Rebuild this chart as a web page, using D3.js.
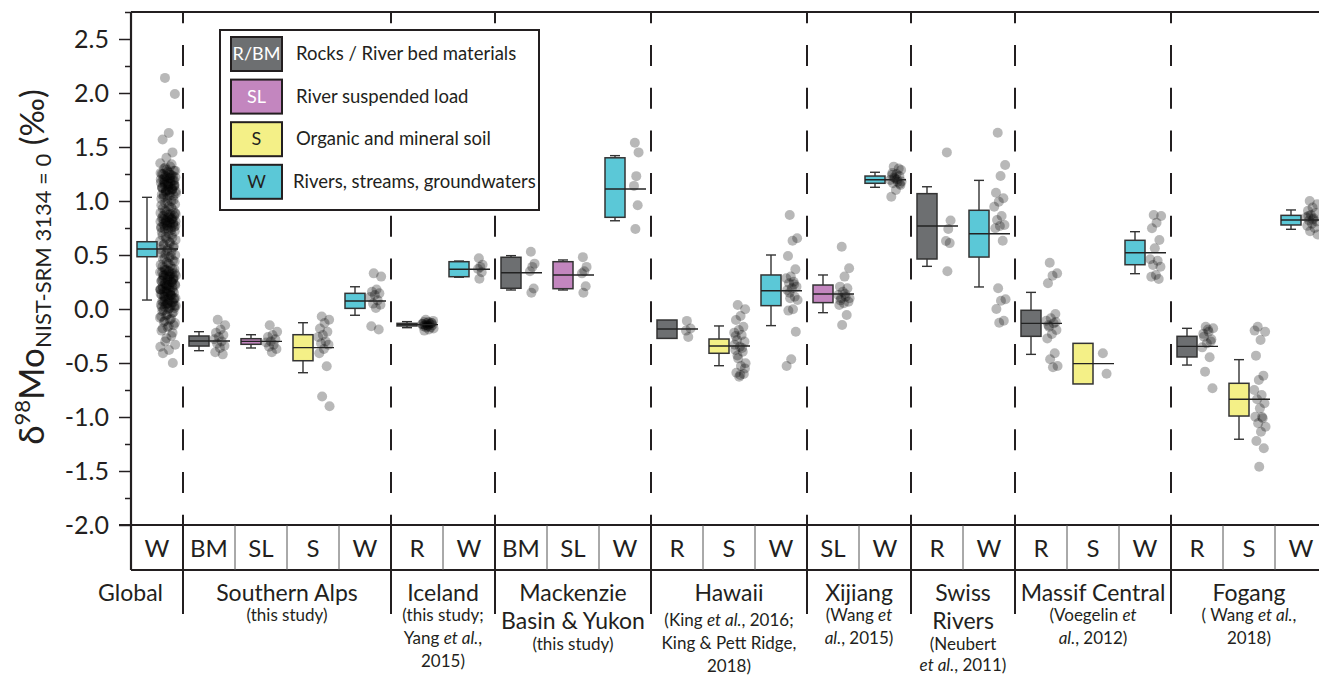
<!DOCTYPE html>
<html>
<head>
<meta charset="utf-8">
<script src="https://cdn.jsdelivr.net/npm/d3@7"></script>
<style>
  body { margin: 0; background: #fff; }
  svg { display: block; font-family: Lato, "Open Sans", sans-serif; }
</style>
</head>
<body>
<div id="chart"></div>
<script>
// ---- data ----
const groupTitles = [["Global"], ["Southern Alps"], ["Iceland"], ["Mackenzie", "Basin & Yukon"], ["Hawaii"],
                     ["Xijiang"], ["Swiss", "Rivers"], ["Massif Central"], ["Fogang"]];
const groupRefs = [
  [],
  ["(this study)"],
  ["(this study;", "Yang <i>et al.</i>,", "2015)"],
  ["(this study)"],
  ["(King <i>et al.</i>, 2016;", "King & Pett Ridge,", "2018)"],
  ["(Wang <i>et</i>", "<i>al.</i>, 2015)"],
  ["(Neubert", "<i>et al.</i>, 2011)"],
  ["(Voegelin <i>et</i>", "<i>al.</i>, 2012)"],
  ["( Wang <i>et al.</i>,", "2018)"]
];
const catGroup = [0, 1, 1, 1, 1, 2, 2, 3, 3, 3, 4, 4, 4, 5, 5, 6, 6, 7, 7, 7, 8, 8, 8];
const catLabel = ["W", "BM", "SL", "S", "W", "R", "W", "BM", "SL", "W", "R", "S", "W", "SL", "W", "R", "W", "R", "S", "W", "R", "S", "W"];

// box-plot statistics per category (‰)
const whiskerLo = [0.083, -0.386, -0.361, -0.59, -0.058, -0.173, 0.294, 0.176, 0.176, 0.817, -0.265, -0.525, -0.154, -0.034, 1.127, 0.395, 0.204, -0.42, -0.642, 0.327, -0.519, -1.206, 0.738];
const q1 = [0.484, -0.343, -0.327, -0.479, 0.006, -0.157, 0.299, 0.192, 0.188, 0.849, -0.272, -0.41, 0.031, 0.059, 1.164, 0.463, 0.481, -0.253, -0.694, 0.41, -0.444, -0.991, 0.778];
const median = [0.556, -0.296, -0.30, -0.358, 0.074, -0.145, 0.368, 0.336, 0.315, 1.111, -0.185, -0.343, 0.169, 0.139, 1.197, 0.769, 0.697, -0.133, -0.506, 0.521, -0.346, -0.836, 0.824];
const q3 = [0.623, -0.25, -0.275, -0.238, 0.145, -0.133, 0.438, 0.479, 0.438, 1.40, -0.102, -0.278, 0.315, 0.222, 1.231, 1.068, 0.914, -0.012, -0.318, 0.636, -0.253, -0.688, 0.867];
const whiskerHi = [1.034, -0.21, -0.238, -0.127, 0.206, -0.117, 0.444, 0.494, 0.454, 1.42, -0.11, -0.157, 0.50, 0.315, 1.266, 1.132, 1.191, 0.154, -0.373, 0.716, -0.179, -0.469, 0.917];

// individual samples
const ptsGlobalW = [2.14, 1.99, 1.63, 1.57, 1.45, 1.40, 1.35, 1.32, 1.30, 1.28, 1.27, 1.25, 1.24, 1.23, 1.22, 1.21, 1.20, 1.19, 1.18, 1.17,
  1.16, 1.15, 1.14, 1.13, 1.12, 1.11, 1.10, 1.09, 1.08, 1.06, 1.05, 1.03, 1.02, 1.00, 0.98, 0.97, 0.95, 0.93, 0.92, 0.90,
  0.89, 0.88, 0.87, 0.86, 0.85, 0.84, 0.83, 0.82, 0.81, 0.80, 0.79, 0.78, 0.77, 0.76, 0.75, 0.74, 0.72, 0.70, 0.68, 0.66,
  0.65, 0.63, 0.61, 0.60, 0.58, 0.56, 0.55, 0.53, 0.51, 0.50, 0.48, 0.46, 0.45, 0.43, 0.41, 0.40, 0.38, 0.37, 0.35, 0.34,
  0.33, 0.32, 0.31, 0.30, 0.29, 0.28, 0.27, 0.26, 0.25, 0.24, 0.23, 0.22, 0.21, 0.20, 0.19, 0.18, 0.17, 0.16, 0.15, 0.14,
  0.13, 0.12, 0.11, 0.10, 0.08, 0.07, 0.06, 0.05, 0.04, 0.03, 0.02, 0.01, 0.00, -0.02, -0.04, -0.06, -0.08, -0.10, -0.12, -0.15,
  -0.17, -0.20, -0.25, -0.30, -0.33, -0.38, -0.41, -0.50, 1.29, 1.26, 1.24, 1.21, 1.19, 1.16, 1.13, 1.11, 1.08, 0.88,
  0.85, 0.83, 0.80, 0.78, 0.75, 0.73, 0.36, 0.33, 0.30, 0.27, 0.24, 0.21, 0.18, 0.15, 0.12, 0.09, 0.05, 0.02,
  1.34, 1.31, 1.28, 1.26, 1.25, 1.23, 1.22, 1.20, 1.18, 1.17, 1.15, 1.14, 1.12, 1.10, 1.09, 1.07, 1.05, 1.04, 1.01, 0.99,
  0.96, 0.94, 0.91, 0.89, 0.87, 0.86, 0.84, 0.82, 0.81, 0.79, 0.77, 0.76, 0.74, 0.71, 0.69, 0.67, 0.64, 0.62, 0.59, 0.57,
  0.54, 0.52, 0.49, 0.47, 0.44, 0.42, 0.39, 0.37, 0.36, 0.34, 0.32, 0.31, 0.29, 0.28, 0.26, 0.25, 0.23, 0.22, 0.20, 0.19,
  0.17, 0.16, 0.14, 0.13, 0.11, 0.10, 0.09, 0.07, 0.06, 0.04, 0.03, 0.01, -0.01, -0.03, -0.05, -0.07, -0.09, -0.11, -0.13, -0.16,
  -0.18, -0.22, -0.27, -0.35, 1.21, 1.18, 1.14, 1.10, 1.06, 0.83, 0.80, 0.77, 0.35, 0.31, 0.27, 0.22, 0.18, 0.13, 0.08, 0.03];
const ptsAlpsBM = [-0.10, -0.15, -0.19, -0.22, -0.24, -0.26, -0.28, -0.30, -0.32, -0.34, -0.36, -0.40, -0.42];
const ptsAlpsSL = [-0.15, -0.21, -0.24, -0.26, -0.28, -0.30, -0.31, -0.33, -0.35, -0.37, -0.40];
const ptsAlpsS = [-0.07, -0.10, -0.13, -0.18, -0.21, -0.24, -0.26, -0.30, -0.32, -0.33, -0.37, -0.41, -0.53, -0.81, -0.90];
const ptsAlpsW = [0.33, 0.30, 0.18, 0.16, 0.145, 0.13, 0.11, 0.08, 0.05, 0.04, 0.01, -0.16, -0.19];
const ptsIcelandR = [-0.10, -0.11, -0.12, -0.12, -0.13, -0.13, -0.14, -0.14, -0.15, -0.15, -0.16, -0.16, -0.17, -0.17, -0.18, -0.19, -0.20, -0.13, -0.15, -0.14];
const ptsIcelandW = [0.47, 0.41, 0.39, 0.37, 0.34, 0.28];
const ptsMackBM = [0.53, 0.42, 0.39, 0.35, 0.19, 0.15];
const ptsMackSL = [0.48, 0.39, 0.35, 0.33, 0.21, 0.15];
const ptsMackW = [1.54, 1.45, 1.23, 1.14, 0.96, 0.74];
const ptsHawaiiR = [-0.11, -0.18, -0.26, -0.20];
const ptsHawaiiS = [0.037, -0.003, -0.065, -0.102, -0.164, -0.194, -0.219, -0.241, -0.287, -0.302, -0.349, -0.38, -0.395,
  -0.457, -0.503, -0.528, -0.59, -0.602, -0.627, -0.33, -0.36, -0.43, -0.55, -0.61, -0.25];
const ptsHawaiiW = [0.87, 0.655, 0.632, 0.491, 0.367, 0.30, 0.284, 0.253, 0.238, 0.207, 0.191, 0.176, 0.114, 0.099, 0.083,
  -0.003, -0.015, -0.21, -0.466, -0.528, 0.23, 0.15];
const ptsXijiangSL = [0.577, 0.377, 0.30, 0.207, 0.191, 0.16, 0.13, 0.114, 0.099, 0.068, 0.053, 0.037, -0.056, -0.148, 0.10, 0.14, 0.08];
const ptsXijiangW = [1.318, 1.287, 1.25, 1.241, 1.231, 1.21, 1.194, 1.179, 1.164, 1.148, 1.102, 1.04, 1.30, 1.22, 1.18, 1.20, 1.26, 1.16];
const ptsSwissR = [1.45, 0.82, 0.74, 0.63, 0.61, 0.35];
const ptsSwissW = [1.632, 1.333, 1.231, 1.077, 1.025, 0.994, 0.947, 0.861, 0.824, 0.778, 0.769, 0.747, 0.632, 0.192, 0.09, 0.077, 0.0, -0.108, -0.127];
const ptsMassifR = [0.429, 0.33, 0.309, 0.238, -0.046, -0.086, -0.108, -0.133, -0.164, -0.194, -0.231, -0.272, -0.41, -0.466, -0.528, -0.54, -0.15, -0.12];
const ptsMassifS = [-0.41, -0.60];
const ptsMassifW = [0.87, 0.861, 0.799, 0.747, 0.639, 0.562, 0.46, 0.447, 0.407, 0.392, 0.315, 0.299, 0.278];
const ptsFogangR = [-0.164, -0.179, -0.21, -0.256, -0.281, -0.318, -0.355, -0.447, -0.58, -0.734, -0.19, -0.23, -0.30];
const ptsFogangS = [-0.164, -0.21, -0.287, -0.432, -0.617, -0.657, -0.75, -0.796, -0.836, -0.873, -0.92, -0.997, -1.012,
  -1.058, -1.09, -1.136, -1.222, -1.29, -1.46, -0.20, -1.00];
const ptsFogangW = [1.00, 0.97, 0.94, 0.91, 0.89, 0.87, 0.85, 0.84, 0.82, 0.81, 0.79, 0.77, 0.75, 0.72, 0.69, 0.83, 0.86];

const legendKeys = ["R/BM", "SL", "S", "W"];
const legendText = ["Rocks  / River bed materials", "River suspended load", "Organic and mineral soil", "Rivers, streams, groundwaters"];
const yTicks = [-2.0, -1.5, -1.0, -0.5, 0.0, 0.5, 1.0, 1.5, 2.0, 2.5];
const yMinorTicks = [-1.75, -1.25, -0.75, -0.25, 0.25, 0.75, 1.25, 1.75, 2.25, 2.75];

const ptsByCat = [ptsGlobalW, ptsAlpsBM, ptsAlpsSL, ptsAlpsS, ptsAlpsW, ptsIcelandR, ptsIcelandW, ptsMackBM, ptsMackSL, ptsMackW,
  ptsHawaiiR, ptsHawaiiS, ptsHawaiiW, ptsXijiangSL, ptsXijiangW, ptsSwissR, ptsSwissW, ptsMassifR, ptsMassifS, ptsMassifW,
  ptsFogangR, ptsFogangS, ptsFogangW];

// ---- layout ----
const W = 1319, H = 675;
const ink = "#231f20";
const color = d3.scaleOrdinal()
  .domain(["R", "SL", "S", "W"])
  .range(["#6d6f71", "#c386bf", "#f4f087", "#5bc8d7"]);
const typeOf = lab => (lab === "BM" || lab === "R" || lab === "R/BM") ? "R" : lab;

const svg = d3.select("#chart").append("svg").attr("width", W).attr("height", H);

const x = d3.scaleBand().domain(d3.range(catLabel.length)).range([131, 1327]);
const y = d3.scaleLinear().domain([-2, 2.75]).range([525, 12]);
const bw = x.bandwidth();

// group boundaries (x where a new group starts)
const groupStart = catGroup.map((g, i) => (i > 0 && g !== catGroup[i - 1]) ? i : -1).filter(i => i > 0);
const groupSpan = groupTitles.map((t, g) => {
  const idx = d3.range(catGroup.length).filter(i => catGroup[i] === g);
  return [x(idx[0]), x(idx[idx.length - 1]) + bw];
});

// dashed separators in plot
svg.append("g").selectAll("line").data(groupStart).join("line")
  .attr("x1", d => x(d)).attr("x2", d => x(d))
  .attr("y1", y(2.75)).attr("y2", y(-2))
  .attr("stroke", ink).attr("stroke-width", 2)
  .attr("stroke-dasharray", "21 21.7").attr("stroke-dashoffset", 9.7);

// y axis
const yAxis = svg.append("g").attr("transform", "translate(131,0)")
  .call(d3.axisLeft(y).tickValues(yTicks).tickSize(12).tickPadding(10).tickFormat(d => d.toFixed(1)));
yAxis.select(".domain").remove();
yAxis.selectAll("line").attr("stroke", ink).attr("stroke-width", 1.5);
yAxis.selectAll("text").attr("font-size", 25).attr("fill", ink).attr("font-family", "Lato, sans-serif");
const yMinor = svg.append("g").attr("transform", "translate(131,0)")
  .call(d3.axisLeft(y).tickValues(yMinorTicks).tickSize(6).tickFormat(""));
yMinor.select(".domain").remove();
yMinor.selectAll("line").attr("stroke", ink).attr("stroke-width", 1.5);

// frame lines
svg.append("line").attr("x1", 131).attr("x2", 131).attr("y1", 12).attr("y2", 570).attr("stroke", ink).attr("stroke-width", 2.2);
svg.append("line").attr("x1", 131).attr("x2", W).attr("y1", 12).attr("y2", 12).attr("stroke", ink).attr("stroke-width", 2);
svg.append("line").attr("x1", 119).attr("x2", W).attr("y1", 525).attr("y2", 525).attr("stroke", ink).attr("stroke-width", 2);
svg.append("line").attr("x1", 131).attr("x2", W).attr("y1", 570).attr("y2", 570).attr("stroke", ink).attr("stroke-width", 2);

// category row
const inner = d3.range(1, catLabel.length).filter(i => !groupStart.includes(i));
svg.append("g").selectAll("line").data(inner).join("line")
  .attr("x1", d => x(d)).attr("x2", d => x(d)).attr("y1", 525).attr("y2", 570)
  .attr("stroke", "#555").attr("stroke-width", 1);
svg.append("g").selectAll("line").data(groupStart).join("line")
  .attr("x1", d => x(d)).attr("x2", d => x(d)).attr("y1", 525).attr("y2", 614)
  .attr("stroke", ink).attr("stroke-width", 2);
svg.append("g").selectAll("text").data(catLabel).join("text")
  .attr("x", (d, i) => x(i) + bw / 2).attr("y", 557)
  .attr("text-anchor", "middle").attr("font-size", 24).attr("fill", ink)
  .text(d => d);

// group titles and references
function richLine(sel, str) {
  str.split(/(<i>.*?<\/i>)/).filter(s => s.length).forEach(s => {
    const it = s.startsWith("<i>");
    sel.append("tspan").attr("font-style", it ? "italic" : "normal").text(it ? s.slice(3, -4) : s);
  });
}
groupTitles.forEach((lines, g) => {
  const cx = g === 0 ? 163 : (groupSpan[g][0] + groupSpan[g][1]) / 2;
  lines.forEach((t, k) => {
    svg.append("text").attr("x", cx).attr("y", 601 + k * 28)
      .attr("text-anchor", g === 0 ? "end" : "middle").attr("font-size", 23).attr("fill", ink).text(t);
  });
  const top = lines.length > 1 ? 650 : (g === 4 ? 626 : 621);
  groupRefs[g].forEach((t, k) => {
    const tx = svg.append("text").attr("x", cx).attr("y", (lines.length > 1 && k > 0 ? top - 2 : top) + k * 23)
      .attr("text-anchor", "middle").attr("font-size", 17).attr("fill", ink);
    richLine(tx, t);
  });
});

// y label
const ylab = svg.append("text").attr("transform", "translate(44,267) rotate(-90)")
  .attr("text-anchor", "middle").attr("fill", ink);
ylab.append("tspan").attr("font-size", 35).text("δ");
ylab.append("tspan").attr("font-size", 22).attr("dy", -14).text("98");
ylab.append("tspan").attr("font-size", 35).attr("dy", 14).text("Mo");
ylab.append("tspan").attr("font-size", 22).attr("dy", 7).text("NIST-SRM 3134 = 0");
ylab.append("tspan").attr("font-size", 33).attr("dy", -7).text(" (‰)");

// points
const plot = svg.append("g");
ptsByCat.forEach((vals, c) => {
  const spread = c === 0 ? 8 : vals.length > 8 ? 6 : 3;
  plot.append("g").selectAll("circle").data(vals).join("circle")
    .attr("cx", (d, i) => x(c) + 37 + (((i * 0.618034 + 0.31) % 1) - 0.5) * 2 * spread)
    .attr("cy", d => y(d))
    .attr("r", 5)
    .attr("fill", "#000").attr("fill-opacity", 0.28);
});

// boxes
const boxes = plot.append("g").selectAll("g").data(catLabel).join("g");
boxes.append("line").attr("x1", (d, i) => x(i) + 16).attr("x2", (d, i) => x(i) + 16)
  .attr("y1", (d, i) => y(q3[i])).attr("y2", (d, i) => y(whiskerHi[i]));
boxes.append("line").attr("x1", (d, i) => x(i) + 16).attr("x2", (d, i) => x(i) + 16)
  .attr("y1", (d, i) => y(q1[i])).attr("y2", (d, i) => y(whiskerLo[i]));
boxes.append("line").attr("x1", (d, i) => x(i) + 11).attr("x2", (d, i) => x(i) + 21)
  .attr("y1", (d, i) => y(whiskerHi[i])).attr("y2", (d, i) => y(whiskerHi[i]));
boxes.append("line").attr("x1", (d, i) => x(i) + 11).attr("x2", (d, i) => x(i) + 21)
  .attr("y1", (d, i) => y(whiskerLo[i])).attr("y2", (d, i) => y(whiskerLo[i]));
boxes.selectAll("line").attr("stroke", "#333").attr("stroke-width", 1.4);
boxes.append("rect")
  .attr("x", (d, i) => x(i) + 6).attr("width", 20)
  .attr("y", (d, i) => y(q3[i])).attr("height", (d, i) => y(q1[i]) - y(q3[i]))
  .attr("fill", d => color(typeOf(d))).attr("stroke", "#333").attr("stroke-width", 1.5);
boxes.append("line").attr("x1", (d, i) => x(i) + 6).attr("x2", (d, i) => x(i) + 47)
  .attr("y1", (d, i) => y(median[i])).attr("y2", (d, i) => y(median[i]))
  .attr("stroke", "#222").attr("stroke-width", 1.4);

// legend
const leg = svg.append("g");
leg.append("rect").attr("x", 220).attr("y", 30).attr("width", 319).attr("height", 180)
  .attr("fill", "#fff").attr("stroke", ink).attr("stroke-width", 2);
const item = leg.selectAll("g").data(legendKeys).join("g")
  .attr("transform", (d, i) => `translate(231,${37 + i * 42.6})`);
item.append("rect").attr("width", 51).attr("height", 34)
  .attr("fill", d => color(typeOf(d))).attr("stroke", ink).attr("stroke-width", 2);
item.append("text").attr("x", 25.5).attr("y", 23).attr("text-anchor", "middle").attr("font-size", 18)
  .attr("fill", (d, i) => i < 2 ? "#fff" : ink).text(d => d);
item.append("text").attr("x", (d, i) => i === 3 ? 62 : 65).attr("y", 23).attr("font-size", 18.5)
  .attr("fill", ink).text((d, i) => legendText[i]);
</script>
</body>
</html>
